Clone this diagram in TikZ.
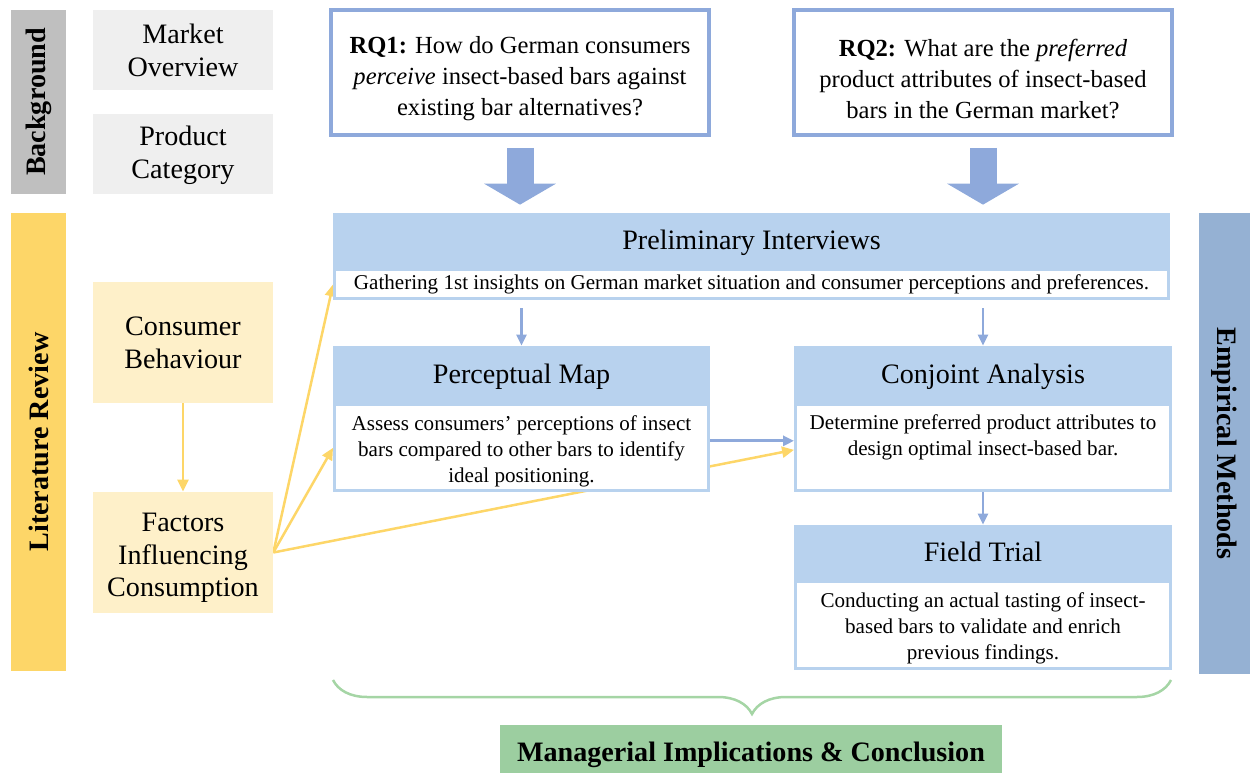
\documentclass[tikz,border=0pt]{standalone}
\usepackage{fontspec}
\setmainfont{Liberation Serif}
\usepackage{tikz}
\usetikzlibrary{positioning, arrows.meta, decorations.pathreplacing, backgrounds}

\definecolor{bggray}{HTML}{BFBFBF}
\definecolor{boxgray}{HTML}{EFEFEF}
\definecolor{lityellow}{HTML}{FDD668}
\definecolor{paleyellow}{HTML}{FEF0C9}
\definecolor{rqblue}{HTML}{8EA9DB}
\definecolor{headblue}{HTML}{B8D2EE}
\definecolor{empblue}{HTML}{95B1D3}
\definecolor{bracegreen}{HTML}{A5D5A5}
\definecolor{mgmtgreen}{HTML}{9CCEA0}

\begin{document}
\begin{tikzpicture}[x=0.02cm,y=-0.02cm,
    sidebar/.style={rectangle,inner sep=0,minimum width=1.1cm,font=\fhd\bfseries},
    leftbox/.style={rectangle,inner sep=0,minimum width=3.6cm,align=center,font=\fhd},
    rqbox/.style={rectangle,draw=rqblue,line width=0.07cm,fill=white,
      minimum width=7.57cm,minimum height=2.51cm,inner sep=0,align=center,font=\frq},
    headbox/.style={rectangle,fill=headblue,inner sep=0,font=\fhd,
      text height=14pt,text depth=4pt},
    descbox/.style={rectangle,draw=headblue,line width=0.06cm,fill=white,
      inner sep=0,align=center,font=\ftx},
    blockarrow/.style={rqblue,line width=0.54cm,
      -{Triangle[width=1.42cm,length=0.42cm]}},
    thinarrow/.style={rqblue,line width=0.045cm,
      -{Triangle[width=0.2cm,length=0.22cm]}},
    yelarrow/.style={lityellow,line width=0.05cm,
      -{Triangle[width=0.22cm,length=0.24cm]}}]
      \def\fhd{\fontsize{16}{18.7}\selectfont}
      \def\frq{\fontsize{14}{17.6}\selectfont}
      \def\ftx{\fontsize{12}{14.8}\selectfont}
      \def\lift#1{\rule{0pt}{#1}}

      \useasboundingbox (0,0) rectangle (1250,773);

      % side bars
      \node (bg) at (38.5,102) [sidebar,fill=bggray,minimum height=3.68cm]
            {\rotatebox{90}{Background}};
      \node (lit) at (38.5,442) [sidebar,fill=lityellow,minimum height=9.16cm]
            {\rotatebox{90}{Literature Review}};
      \node (emp) at (1224.5,443.5) [sidebar,fill=empblue,minimum width=1.02cm,
            minimum height=9.22cm]
            {\rotatebox{-90}{Empirical Methods}};

      % left column
      \node (mkt) at (183,50) [leftbox,fill=boxgray,minimum height=1.6cm]
            {Market\\Overview};
      \node (prod) at (183,154) [leftbox,fill=boxgray,minimum height=1.6cm]
            {\lift{13pt}Product\\Category};
      \node (cons) at (183,342.5) [leftbox,fill=paleyellow,minimum height=2.42cm]
            {Consumer\\Behaviour};
      \node (fact) at (183,552.5) [leftbox,fill=paleyellow,minimum height=2.42cm]
            {\lift{16.5pt}Factors\\Influencing\\Consumption};

      % research questions
      \node (rq1) at (520,72.5) [rqbox]
            {\lift{17pt}\textbf{RQ1:} How do German consumers\\
             \textit{perceive} insect-based bars against\\
             existing bar alternatives?};
      \node (rq2) at (983,72.5) [rqbox]
            {\lift{17pt}\textbf{RQ2:} What are the \textit{preferred}\\
             product attributes of insect-based\\
             bars in the German market?};

      % methods
      \node (prelim) at (751.5,240.5) [headbox,minimum width=16.74cm,minimum height=1.1cm]
            {Preliminary Interviews};
      \node (prelimtxt) [descbox,below=0pt of prelim,minimum width=16.68cm,
            minimum height=0.58cm]
            {Gathering 1st insights on German market situation and consumer perceptions and preferences.};

      \node (permap) at (521.5,374.5) [headbox,minimum width=7.54cm,minimum height=1.14cm]
            {Perceptual Map};
      \node (permaptxt) [descbox,below=0pt of permap,minimum width=7.48cm,
            minimum height=1.72cm]
            {\lift{12pt}Assess consumers’ perceptions of insect\\
             bars compared to other bars to identify\\
             ideal positioning.};

      \node (conj) at (983,374.5) [headbox,minimum width=7.56cm,minimum height=1.14cm]
            {Conjoint Analysis};
      \node (conjtxt) [descbox,below=0pt of conj,minimum width=7.5cm,
            minimum height=1.72cm]
            {Determine preferred product attributes to\\
             design optimal insect-based bar.\\ \mbox{}};

      \node (field) at (983,552.5) [headbox,minimum width=7.56cm,minimum height=1.1cm]
            {Field Trial};
      \node (fieldtxt) [descbox,below=0pt of field,minimum width=7.5cm,
            minimum height=1.74cm]
            {\lift{12pt}Conducting an actual tasting of insect-\\
             based bars to validate and enrich\\
             previous findings.};

      \node (mgmt) at (751,749) [rectangle,fill=mgmtgreen,inner sep=0,
            minimum width=10.04cm,minimum height=0.96cm,font=\fhd\bfseries,
            text height=18pt,text depth=4pt]
            {Managerial Implications \& Conclusion};

      % arrows
      \draw[blockarrow,shorten <=0.22cm,shorten >=0.16cm]
            (rq1.south) -- (rq1.south |- prelim.north);
      \draw[blockarrow,shorten <=0.22cm,shorten >=0.16cm]
            (rq2.south) -- (rq2.south |- prelim.north);

      \draw[thinarrow,shorten <=0.16cm] (permap.north |- prelimtxt.south) -- (permap.north);
      \draw[thinarrow,shorten <=0.16cm] (conj.north |- prelimtxt.south) -- (conj.north);
      \draw[thinarrow] (conjtxt.south) -- (field.north);
      \draw[thinarrow,line width=0.055cm]
            ([yshift=0.14cm]permaptxt.east) -- ([yshift=0.14cm]conjtxt.west);

      \draw[yelarrow] (cons.south) -- (fact.north);
      \begin{pgfonlayer}{background}
      \draw[yelarrow] (fact.east) -- (prelimtxt.west);
      \draw[yelarrow] (fact.east) -- (permaptxt.west);
      \draw[yelarrow] (fact.east) -- ([yshift=-0.04cm]conjtxt.west);
      \end{pgfonlayer}

      % brace over the methods
      \coordinate (bracel) at (333,680);
      \coordinate (bracer) at (1171,680);
      \draw[bracegreen,line width=0.05cm,decorate,
            decoration={brace,mirror,amplitude=0.68cm}]
            (bracel) -- (bracer);
    \end{tikzpicture}
\end{document}
